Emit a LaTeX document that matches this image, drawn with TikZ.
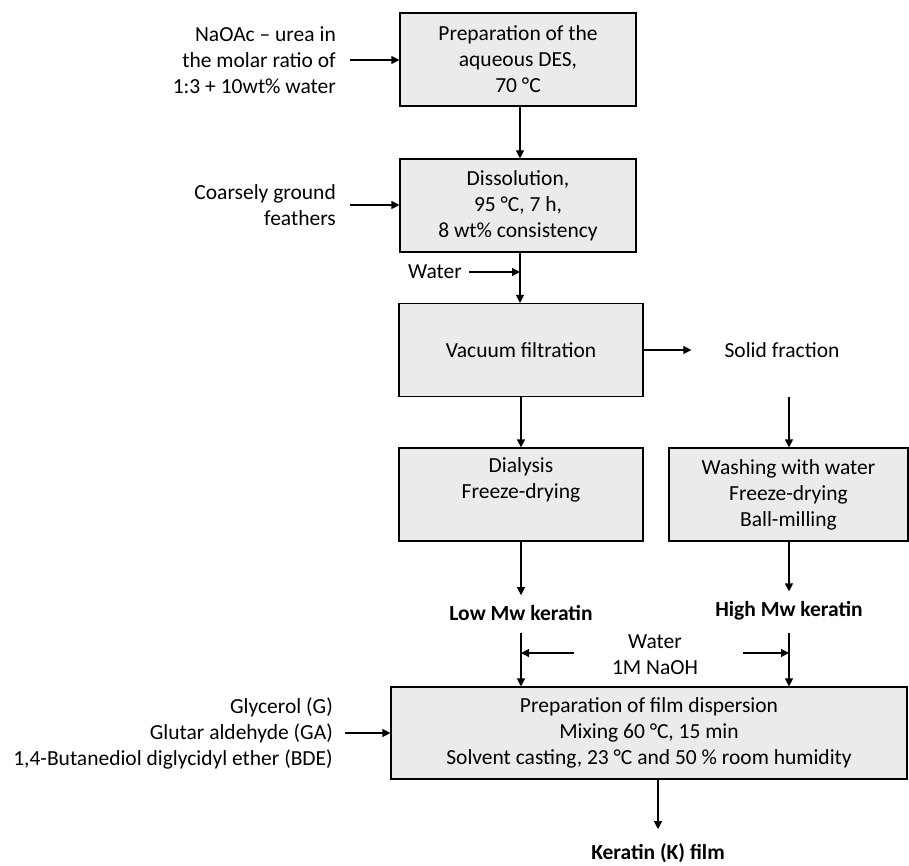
\documentclass[tikz,border=0pt]{standalone}
\usepackage{fontspec}
\setmainfont{Carlito}
\usetikzlibrary{arrows.meta, positioning, calc}

\begin{document}
\begin{tikzpicture}[x=1pt, y=-1pt,
  procbox/.style={rectangle, draw, line width=1.2pt, fill=black!8, align=center, minimum height=93pt, inner sep=2pt},
  sidetext/.style={align=right, anchor=east, inner sep=0pt},
  flow/.style={line width=1.2pt, -{Triangle[length=8pt, width=8pt]}},
  font=\fontsize{21.5}{26}\selectfont]
\useasboundingbox (0,0) rectangle (909,866);

% main column
\node[procbox, minimum width=236pt] (des) at (518,59.5) {Preparation of the\\aqueous DES,\\70 °C};
\node[procbox, minimum width=236pt] (dissolve) at (518,205.5) {Dissolution,\\95 °C, 7 h,\\8 wt\% consistency};
\node[procbox, minimum width=244pt] (filter) at (521,350) {Vacuum filtration};
\node[procbox, minimum width=244pt] (dialysis) at (521,494.5) {Dialysis\\Freeze-drying\\\strut};
\node[procbox, minimum width=239pt] (washing) at (788.5,494.5) {Washing with water\\Freeze-drying\\Ball-milling};
\node[procbox, minimum width=516pt, minimum height=92pt] (film) at (649,733) {Preparation of film dispersion\\Mixing 60 °C, 15 min\\Solvent casting, 23 °C and 50 \% room humidity};

% inputs
\node[sidetext] (salts) at (336,60) {NaOAc – urea in\\the molar ratio of\\1:3 + 10wt\% water};
\node[sidetext] (feathers) at (336,205) {Coarsely ground\\feathers};
\node[sidetext] (water) at (462,272) {Water};
\node[inner sep=0pt] (solid) at (782,350) {Solid fraction};
\node[inner sep=0pt, font=\fontsize{21.5}{26}\selectfont\bfseries] (lowmw) at (521,613) {Low Mw keratin};
\node[inner sep=0pt, font=\fontsize{21.5}{26}\selectfont\bfseries] (highmw) at (789,611) {High Mw keratin};
\node[inner sep=0pt, align=center] (naoh) at (655,655) {Water\\1M NaOH};
\node[sidetext] (additives) at (333,733) {Glycerol (G)\\Glutar aldehyde (GA)\\1,4-Butanediol diglycidyl ether (BDE)};
\node[inner sep=0pt, font=\fontsize{21.5}{26}\selectfont\bfseries] (kfilm) at (658,853) {Keratin (K) film};

% helper points
\coordinate (wjoin) at (520,272);
\coordinate (sdown) at (789,397);
\coordinate (nl) at (521,653);
\coordinate (nr) at (789,653);

% connectors
\draw[flow] ([xshift=14pt]salts.east) -- (des.west |- salts.east);
\draw[flow] ([xshift=14pt]feathers.east) -- (dissolve.west |- feathers.east);
\draw[flow] (wjoin |- des.south) -- (wjoin |- dissolve.north);
\draw[flow] (wjoin |- dissolve.south) -- (wjoin |- filter.north);
\draw[flow] ([xshift=7pt]water.east) -- (wjoin);
\draw[flow] (filter.east) -- ([xshift=-33pt]solid.west);
\draw[flow] (filter.south) -- (dialysis.north);
\draw[flow] (sdown) -- (sdown |- washing.north);
\draw[flow] (dialysis.south) -- ([yshift=10pt]lowmw.north);
\draw[flow] (highmw |- washing.south) -- ([yshift=10pt]highmw.north);
\draw[flow] ([yshift=-12pt]lowmw.south) -- (lowmw.south |- film.north);
\draw[flow] ([yshift=-12pt]lowmw.south -| nr) -- (nr |- film.north);
\draw[flow] ([xshift=-38pt]naoh.west |- nl) -- (nl);
\draw[flow] ([xshift=45pt]naoh.east |- nr) -- (nr);
\draw[flow] ([xshift=12pt]additives.east) -- (film.west |- additives.east);
\draw[flow] (kfilm |- film.south) -- ([yshift=14pt]kfilm.north);
\end{tikzpicture}
\end{document}
